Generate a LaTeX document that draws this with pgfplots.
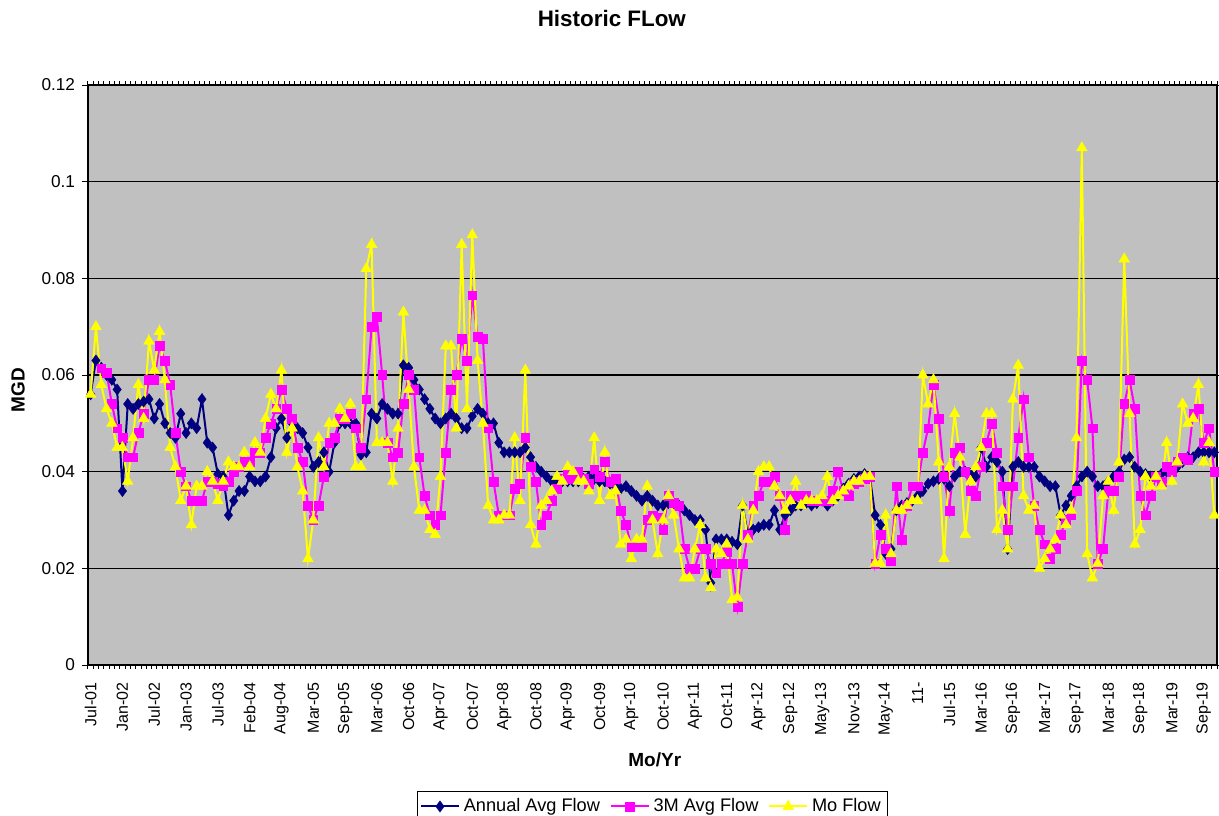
\documentclass[border=0pt]{standalone}
\usepackage{pgfplots}
\usepackage{pgfplotstable}
\usepackage{fontspec}
\setmainfont{Liberation Sans}
\pgfplotsset{compat=1.18}
\definecolor{navyc}{RGB}{0,0,128}
\definecolor{magc}{RGB}{255,0,255}
\definecolor{yelc}{RGB}{255,255,0}
\definecolor{plotgray}{RGB}{192,192,192}

\pgfplotstableread{
x A M Y
0 0.056 nan 0.056
1 0.063 nan 0.070
2 0.0615 0.0614 0.058
3 0.060 0.0605 0.053
4 0.059 0.054 0.050
5 0.057 0.049 0.045
6 0.036 0.047 0.045
7 0.054 0.043 0.038
8 0.053 0.043 0.047
9 0.054 0.048 0.058
10 0.0545 0.052 0.051
11 0.055 0.059 0.067
12 0.051 0.059 0.061
13 0.054 0.066 0.069
14 0.050 0.063 0.059
15 0.048 0.058 0.045
16 0.047 0.048 0.041
17 0.052 0.040 0.034
18 0.048 0.037 0.037
19 0.050 0.034 0.029
20 0.049 0.034 0.037
21 0.055 0.034 0.037
22 0.046 0.038 0.040
23 0.045 0.038 0.038
24 0.0395 0.0375 0.034
25 0.039 0.037 0.038
26 0.031 0.038 0.042
27 0.034 0.040 0.041
28 0.036 0.041 0.041
29 0.036 0.042 0.044
30 0.039 0.042 0.041
31 0.038 0.044 0.046
32 0.038 0.044 0.044
33 0.039 0.047 0.051
34 0.043 0.050 0.056
35 0.049 0.053 0.053
36 0.051 0.057 0.061
37 0.047 0.053 0.044
38 0.050 0.051 0.049
39 0.049 0.045 0.041
40 0.048 0.042 0.036
41 0.045 0.033 0.022
42 0.041 0.030 0.030
43 0.042 0.033 0.047
44 0.044 0.039 0.041
45 0.040 0.046 0.050
46 0.046 0.047 0.050
47 0.050 0.051 0.053
48 0.050 0.051 0.051
49 0.050 0.052 0.054
50 0.050 0.049 0.041
51 0.0435 0.045 0.041
52 0.044 0.055 0.082
53 0.052 0.070 0.087
54 0.051 0.072 0.046
55 0.054 0.060 0.046
56 0.053 0.046 0.046
57 0.052 0.043 0.038
58 0.052 0.044 0.049
59 0.062 0.054 0.073
60 0.0615 0.060 0.057
61 0.059 0.057 0.041
62 0.057 0.043 0.032
63 0.055 0.035 0.032
64 0.053 0.031 0.028
65 0.051 0.029 0.027
66 0.050 0.031 0.039
67 0.051 0.044 0.066
68 0.052 0.057 0.066
69 0.051 0.060 0.049
70 0.049 0.0675 0.087
71 0.049 0.063 0.053
72 0.0515 0.0765 0.089
73 0.053 0.068 0.063
74 0.052 0.0675 0.050
75 0.050 0.049 0.033
76 0.050 0.038 0.030
77 0.046 0.031 0.030
78 0.044 0.031 0.031
79 0.044 0.031 0.031
80 0.044 0.0365 0.047
81 0.044 0.0375 0.034
82 0.045 0.047 0.061
83 0.043 0.041 0.029
84 0.041 0.038 0.025
85 0.040 0.029 0.033
86 0.039 0.031 0.034
87 0.038 0.034 0.036
88 0.038 0.0365 0.039
89 0.038 0.0385 0.038
90 0.038 0.0395 0.041
91 0.038 0.0385 0.040
92 0.038 0.040 0.038
93 0.0385 0.0385 0.038
94 0.039 0.0375 0.036
95 0.0385 0.0405 0.047
96 0.038 0.039 0.034
97 0.038 0.042 0.044
98 0.0375 0.038 0.035
99 0.037 0.0385 0.036
100 0.0365 0.032 0.025
101 0.037 0.029 0.026
102 0.036 0.0245 0.022
103 0.035 0.0245 0.026
104 0.034 0.0245 0.026
105 0.035 0.030 0.037
106 0.034 0.031 0.030
107 0.033 0.0305 0.023
108 0.033 0.028 0.030
109 0.0335 0.035 0.035
110 0.0335 0.0335 0.031
111 0.033 0.033 0.024
112 0.032 0.024 0.018
113 0.031 0.020 0.018
114 0.030 0.020 0.024
115 0.030 0.024 0.029
116 0.028 0.024 0.018
117 0.017 0.021 0.016
118 0.026 0.019 0.024
119 0.026 0.021 0.023
120 0.026 0.0235 0.025
121 0.0255 0.021 0.0135
122 0.025 0.012 0.014
123 0.033 0.021 0.033
124 0.027 0.027 0.026
125 0.028 0.033 0.032
126 0.0285 0.035 0.040
127 0.029 0.038 0.041
128 0.029 0.038 0.041
129 0.032 0.039 0.037
130 0.028 0.035 0.035
131 0.031 0.028 0.032
132 0.032 0.035 0.034
133 0.033 0.035 0.038
134 0.033 0.035 0.033
135 0.0335 0.035 0.034
136 0.033 0.034 0.034
137 0.0335 0.034 0.034
138 0.034 0.034 0.035
139 0.033 0.034 0.039
140 0.034 0.036 0.034
141 0.035 0.040 0.035
142 0.0365 0.036 0.036
143 0.0375 0.035 0.037
144 0.0385 0.0375 0.038
145 0.039 0.038 0.038
146 0.0395 0.0385 0.039
147 0.039 0.039 0.039
148 0.031 0.021 0.021
149 0.029 0.027 0.021
150 0.023 0.024 0.031
151 0.024 0.0215 0.023
152 0.032 0.037 0.032
153 0.033 0.026 0.032
154 0.0335 0.033 0.033
155 0.034 0.037 0.034
156 0.035 0.037 0.034
157 0.036 0.044 0.060
158 0.0375 0.049 0.054
159 0.038 0.058 0.059
160 0.0385 0.051 0.042
161 0.0385 0.039 0.022
162 0.037 0.032 0.041
163 0.039 0.044 0.052
164 0.040 0.045 0.043
165 0.040 0.040 0.027
166 0.0395 0.036 0.038
167 0.039 0.035 0.041
168 0.045 0.041 0.045
169 0.041 0.046 0.052
170 0.043 0.050 0.052
171 0.042 0.044 0.028
172 0.040 0.037 0.032
173 0.024 0.028 0.024
174 0.041 0.037 0.055
175 0.042 0.047 0.062
176 0.041 0.055 0.035
177 0.041 0.043 0.032
178 0.041 0.033 0.033
179 0.039 0.028 0.020
180 0.038 0.025 0.022
181 0.037 0.022 0.024
182 0.037 0.024 0.026
183 0.031 0.027 0.031
184 0.033 0.030 0.029
185 0.035 0.031 0.032
186 0.037 0.036 0.047
187 0.039 0.063 0.107
188 0.040 0.059 0.023
189 0.039 0.049 0.018
190 0.037 0.021 0.021
191 0.037 0.024 0.035
192 0.038 0.036 0.038
193 0.039 0.036 0.032
194 0.040 0.039 0.042
195 0.0425 0.054 0.084
196 0.043 0.059 0.052
197 0.041 0.053 0.025
198 0.040 0.035 0.028
199 0.0395 0.031 0.039
200 0.039 0.035 0.037
201 0.039 0.039 0.039
202 0.0395 0.038 0.037
203 0.040 0.041 0.046
204 0.040 0.040 0.038
205 0.041 0.042 0.042
206 0.042 0.043 0.054
207 0.043 0.0425 0.050
208 0.043 0.052 0.051
209 0.044 0.053 0.058
210 0.044 0.046 0.042
211 0.044 0.049 0.046
212 0.044 0.040 0.031
}\datatable

\begin{document}
\begin{tikzpicture}
\begin{axis}[
  scale only axis, width=564.5pt, height=290pt,
  at={(0,0)}, anchor=south west,
  xmin=-0.5, xmax=212.5, ymin=0, ymax=0.12,
  axis background/.style={fill=plotgray},
  xtick={0,6,...,210},
  xticklabels={Jul-01,Jan-02,Jul-02,Jan-03,Jul-03,Feb-04,Aug-04,Mar-05,Sep-05,Mar-06,Oct-06,Apr-07,Oct-07,Apr-08,Oct-08,Apr-09,Oct-09,Apr-10,Oct-10,Apr-11,Oct-11,Apr-12,Sep-12,May-13,Nov-13,May-14,11-,Jul-15,Mar-16,Sep-16,Mar-17,Sep-17,Mar-18,Sep-18,Mar-19,Sep-19},
  minor xtick={-0.5,0.5,...,212.5},
  major x tick style={draw=none},
  ytick={0,0.02,0.04,0.06,0.08,0.1,0.12},
  yticklabels={0,0.02,0.04,0.06,0.08,0.1,0.12},
  ymajorgrids,
  major grid style={black, line width=0.6pt},
  tick align=outside,
  major tick length=2.8pt, minor tick length=1.8pt,
  tick style={black, line width=0.5pt},
  xticklabel style={rotate=90, anchor=east, font=\fontsize{8}{9.5}\selectfont, inner xsep=5.8pt, inner ysep=1pt},
  yticklabel style={font=\fontsize{8.6}{10}\selectfont, inner xsep=3.5pt},
  axis line style={black, line width=0.6pt},
  clip=false,
  legend style={at={(0.5,-0.217)}, anchor=north, legend columns=3, draw=black, line width=0.5pt,
    font=\fontsize{9.1}{11}\selectfont, inner sep=1.5pt,
    /tikz/every even column/.append style={column sep=3pt}},
  legend image code/.code={
    \draw[mark repeat=2, mark phase=2] plot coordinates {(0cm,0cm) (0.33cm,0cm) (0.66cm,0cm)};},
  legend cell align=left,
]
\addplot[color=navyc, line width=1pt, mark=diamond*, mark size=2.8pt,
  mark options={solid, fill=navyc, draw=navyc, line width=0.2pt}]
  table[x=x, y=A]{\datatable};
\addlegendentry{Annual Avg Flow}
\addplot[color=magc, line width=1pt, mark=square*, mark size=2.2pt,
  mark options={solid, fill=magc, draw=magc, line width=0.2pt}]
  table[x=x, y=M]{\datatable};
\addlegendentry{3M Avg Flow}
\addplot[color=yelc, line width=1pt, mark=triangle*, mark size=3.1pt,
  mark options={solid, fill=yelc, draw=yelc, line width=0.2pt}]
  table[x=x, y=Y]{\datatable};
\addlegendentry{Mo Flow}
\node[font=\bfseries\fontsize{11.2}{13}\selectfont] at (rel axis cs:0.464,1.1155) {Historic FLow};
\node[font=\bfseries\fontsize{9.5}{11}\selectfont] at (rel axis cs:0.502,-0.164) {Mo/Yr};
\node[font=\bfseries\fontsize{9.5}{11}\selectfont, rotate=90] at (rel axis cs:-0.062,0.474) {MGD};
\end{axis}
\pgfresetboundingbox
\path (-44pt,-75pt) rectangle (565.5pt,332.5pt);
\end{tikzpicture}
\end{document}
